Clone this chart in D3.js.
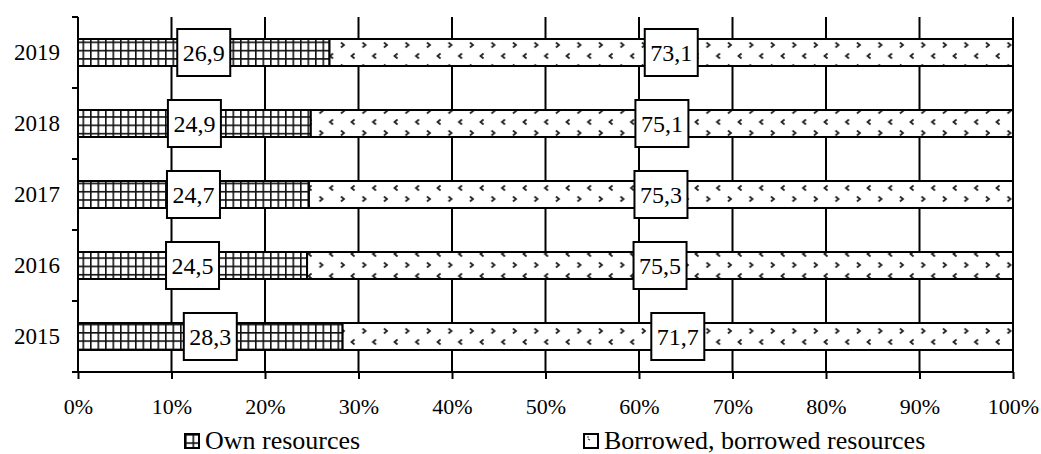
<!DOCTYPE html>
<html>
<head>
<meta charset="utf-8">
<script src="https://cdn.jsdelivr.net/npm/d3@7"></script>
<style>
  html, body { margin: 0; padding: 0; background: #fff; }
  svg text { font-family: 'Liberation Serif', 'Tinos', 'Times New Roman', 'DejaVu Serif', serif !important; }
</style>
</head>
<body>
<svg id="chart" width="1041" height="454"></svg>
<script>
// ---- Data ----
const years = ["2019", "2018", "2017", "2016", "2015"];
const ownResources = [26.9, 24.9, 24.7, 24.5, 28.3];
const borrowedResources = [73.1, 75.1, 75.3, 75.5, 71.7];
const xTicks = [0, 10, 20, 30, 40, 50, 60, 70, 80, 90, 100];
const seriesNames = ["Own resources", "Borrowed, borrowed resources"];

// ---- Layout ----
const svg = d3.select("#chart");
const plotLeft = 78, plotRight = 1013, plotTop = 17, plotBottom = 372;

const x = d3.scaleLinear().domain([0, 100]).range([plotLeft, plotRight]);
const y = d3.scaleBand().domain(years).range([plotTop, plotBottom])
  .paddingInner(0.62).paddingOuter(0.31);
const step = y.step();

// ---- Patterns ----
const defs = svg.append("defs");
const own = defs.append("pattern").attr("id", "ownPat")
  .attr("patternUnits", "userSpaceOnUse").attr("width", 7.5).attr("height", 8.3);
own.append("rect").attr("width", 7.5).attr("height", 8.3).attr("fill", "#fff");
own.append("path").attr("d", "M0,0.5H7.5 M0.5,0V8.3")
  .attr("stroke", "#111").attr("stroke-width", 2.2);

const bor = defs.append("pattern").attr("id", "borPat")
  .attr("patternUnits", "userSpaceOnUse").attr("width", 21.5).attr("height", 22)
  .attr("x", 4).attr("y", 8);
bor.append("rect").attr("width", 21.5).attr("height", 22).attr("fill", "#fff");
bor.append("path").attr("d", "M6.5,1.5 L3.5,4 L6.5,6.5")
  .attr("fill", "none").attr("stroke", "#222").attr("stroke-width", 1.8);
bor.append("path").attr("d", "M14.5,12.5 L17.5,15 L14.5,17.5")
  .attr("fill", "none").attr("stroke", "#222").attr("stroke-width", 1.8);

// ---- Gridlines ----
svg.append("g").selectAll("line").data(xTicks.filter(d => d > 0)).join("line")
  .attr("x1", d => x(d)).attr("x2", d => x(d))
  .attr("y1", plotTop).attr("y2", plotBottom)
  .attr("stroke", "#000").attr("stroke-width", 2);

// ---- Bars ----
const rows = years.map((yr, i) => ({ year: yr, own: ownResources[i], bor: borrowedResources[i] }));
const gBars = svg.append("g");
gBars.selectAll("rect.own").data(rows).join("rect").attr("class", "own")
  .attr("x", x(0)).attr("y", d => y(d.year))
  .attr("width", d => x(d.own) - x(0)).attr("height", y.bandwidth())
  .attr("fill", "url(#ownPat)").attr("stroke", "#000").attr("stroke-width", 2);
gBars.selectAll("rect.bor").data(rows).join("rect").attr("class", "bor")
  .attr("x", d => x(d.own)).attr("y", d => y(d.year))
  .attr("width", d => x(d.own + d.bor) - x(d.own)).attr("height", y.bandwidth())
  .attr("fill", "url(#borPat)").attr("stroke", "#000").attr("stroke-width", 2);

// ---- Axes ----
const xAxis = svg.append("g").attr("transform", `translate(0,${plotBottom})`)
  .call(d3.axisBottom(x).tickValues(xTicks).tickSize(7).tickSizeOuter(0)
    .tickFormat(d => d + "%"));
xAxis.attr("font-family", null);
xAxis.selectAll("path, line").attr("stroke", "#000").attr("stroke-width", 2);
xAxis.select("path.domain").attr("d", `M${plotLeft - 6},0H${plotRight}`);
xAxis.selectAll("text").attr("y", 42).attr("dy", 0)
  .attr("font-size", 22).attr("fill", "#000");

const yAxis = svg.append("g").attr("transform", `translate(${plotLeft},0)`)
  .call(d3.axisLeft(y).tickSize(0).tickPadding(18));
yAxis.attr("font-family", null);
yAxis.select("path.domain").attr("d", `M0,${plotTop}V${plotBottom}`)
  .attr("stroke", "#000").attr("stroke-width", 2);
yAxis.selectAll("text").attr("font-size", 23).attr("fill", "#000");
// tick marks at band boundaries
const boundaries = years.map(d => y(d) - y.paddingOuter() * step);
yAxis.append("g").selectAll("line").data(boundaries).join("line")
  .attr("x1", -6).attr("x2", 0).attr("y1", d => d).attr("y2", d => d)
  .attr("stroke", "#000").attr("stroke-width", 2);

// ---- Labels ----
const fmt = v => String(v.toFixed(1)).replace(".", ",");
const labels = [];
rows.forEach(d => {
  labels.push({ cx: x(d.own / 2), cy: y(d.year) + y.bandwidth() / 2, v: d.own });
  labels.push({ cx: x(d.own + d.bor / 2), cy: y(d.year) + y.bandwidth() / 2, v: d.bor });
});
const gl = svg.append("g").selectAll("g").data(labels).join("g")
  .attr("transform", d => `translate(${d.cx},${d.cy})`);
gl.append("rect").attr("x", -26.5).attr("y", -23.5).attr("width", 53).attr("height", 47)
  .attr("fill", "#fff").attr("stroke", "#000").attr("stroke-width", 2);
gl.append("text").attr("text-anchor", "middle").attr("dy", "0.35em")
  .attr("font-size", 24).attr("fill", "#000").text(d => fmt(d.v));

// ---- Legend ----
const legendItems = [
  { name: seriesNames[0], pat: "ownPat", x: 185 },
  { name: seriesNames[1], pat: "borPat", x: 584 }
];
const lg = svg.append("g").selectAll("g").data(legendItems).join("g")
  .attr("transform", d => `translate(${d.x},434)`);
lg.append("rect").attr("width", 14).attr("height", 14)
  .attr("fill", d => d.pat === "ownPat" ? "url(#ownPat)" : "#fff")
  .attr("stroke", "#000").attr("stroke-width", 2);
lg.filter(d => d.pat === "borPat").append("path")
  .attr("d", "M3,3 L5,3 M4,5 L6,6").attr("stroke", "#333").attr("stroke-width", 1.2);
lg.append("text").attr("x", 20).attr("y", 15).attr("font-size", 26).attr("fill", "#000")
  .text(d => d.name);
</script>
</body>
</html>
